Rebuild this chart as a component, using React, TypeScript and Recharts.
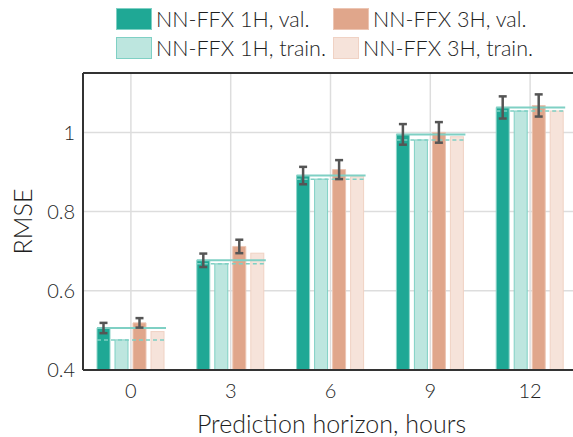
import { BarChart, Bar, XAxis, YAxis, CartesianGrid, ErrorBar, Legend, ReferenceLine } from 'recharts'

const horizons = ['0', '3', '6', '9', '12']
const val1H = [0.506, 0.677, 0.891, 0.995, 1.063]
const train1H = [0.476, 0.668, 0.882, 0.981, 1.054]
const val3H = [0.519, 0.712, 0.906, 1.0, 1.068]
const train3H = [0.497, 0.695, 0.888, 0.989, 1.054]
const err1H = [0.013, 0.017, 0.022, 0.026, 0.028]
const err3H = [0.012, 0.017, 0.024, 0.026, 0.028]
const yTicks = [0.4, 0.6, 0.8, 1]

const Y_MIN = 0.4
const Y_MAX = 1.15
const BAR_SIZE = 13
const BAR_GAP = 5
const FONT = 'Lato, "DejaVu Sans", sans-serif'
const WEIGHT = 300
const TEXT = '#1e1e1e'

const C1 = '#1fa895'
const C1L = '#bde6df'
const C3 = '#e0a68b'
const C3L = '#f6e3da'

const data = horizons.map((h, i) => ({
  h,
  val1H: val1H[i],
  train1H: train1H[i],
  val3H: val3H[i],
  train3H: train3H[i],
  err1H: err1H[i],
  err3H: err3H[i],
}))

const legendItems = [
  { label: 'NN-FFX 1H, val.', fill: C1, stroke: '#7fd0c4' },
  { label: 'NN-FFX 3H, val.', fill: C3, stroke: '#ecc5b3' },
  { label: 'NN-FFX 1H, train.', fill: C1L, stroke: '#7fd0c4' },
  { label: 'NN-FFX 3H, train.', fill: C3L, stroke: '#f0d2c4' },
]

function LegendBox() {
  return (
    <div style={{ display: 'grid', gridTemplateColumns: '217px 200px', rowGap: 7, paddingLeft: 116, paddingTop: 8, fontFamily: FONT, fontWeight: WEIGHT }}>
      {legendItems.map((it) => (
        <div key={it.label} style={{ display: 'flex', alignItems: 'center', height: 22 }}>
          <div style={{ width: 34, height: 20, background: it.fill, border: `1px solid ${it.stroke}`, marginRight: 4 }} />
          <span style={{ fontSize: 21.5, color: TEXT, whiteSpace: 'nowrap' }}>{it.label}</span>
        </div>
      ))}
    </div>
  )
}

// last bar also draws the 1H reference lines over the whole group
function Train3HShape(props: any) {
  const { x, y, width, height, payload, fill, stroke } = props
  const base = y + height
  const per = height / (payload.train3H - Y_MIN)
  const yOf = (v: number) => base - (v - Y_MIN) * per
  const left = x - 3 * (BAR_SIZE + BAR_GAP)
  const right = x + width + 2
  return (
    <g>
      <rect x={x} y={y} width={width} height={height} fill={fill} stroke={stroke} strokeWidth={1} />
      <line x1={left} x2={right} y1={yOf(payload.val1H)} y2={yOf(payload.val1H)} stroke="#7fd0c4" strokeWidth={2} />
      <line x1={left} x2={right} y1={yOf(payload.train1H)} y2={yOf(payload.train1H)} stroke="#7fd0c4" strokeWidth={1.5} strokeDasharray="4 3" />
    </g>
  )
}

function RmseLabel(props: any) {
  const { viewBox } = props
  const cy = viewBox.y + viewBox.height / 2
  return (
    <text x={22} y={cy} transform={`rotate(-90, 22, ${cy})`} textAnchor="middle" dominantBaseline="central" fontSize={25} fill={TEXT} fontFamily={FONT} fontWeight={WEIGHT}>
      RMSE
    </text>
  )
}

export default function App() {
  return (
    <div style={{ position: 'absolute', left: 0, top: 0, width: 573, height: 437, overflow: 'hidden', background: '#fff' }}>
      <BarChart
        width={600}
        height={437}
        data={data}
        margin={{ top: 73, right: 20, bottom: 0, left: 0 }}
        barSize={BAR_SIZE}
        barGap={BAR_GAP}
      >
        <CartesianGrid stroke="#dddddd" strokeWidth={1.5} horizontalValues={[0.6, 0.8, 1]} />
        <XAxis
          dataKey="h"
          height={67}
          padding={{ left: -2, right: 0 }}
          tickLine={false}
          tickSize={0}
          tickMargin={14}
          axisLine={{ stroke: '#333', strokeWidth: 2 }}
          tick={{ fontSize: 20, fill: TEXT, fontFamily: FONT, fontWeight: WEIGHT }}
          label={{ value: 'Prediction horizon, hours', position: 'insideBottom', offset: 4, fontSize: 25, fill: TEXT, fontFamily: FONT, fontWeight: WEIGHT }}
        />
        <YAxis
          width={83}
          domain={[Y_MIN, Y_MAX]}
          ticks={yTicks}
          allowDataOverflow
          tickLine={false}
          tickSize={0}
          tickMargin={8}
          axisLine={{ stroke: '#333', strokeWidth: 2 }}
          tick={{ fontSize: 20, fill: TEXT, fontFamily: FONT, fontWeight: WEIGHT }}
          tickFormatter={(v: number) => String(v)}
          label={<RmseLabel />}
        />
        <ReferenceLine y={Y_MAX} stroke="#333" strokeWidth={2} />
        <Legend verticalAlign="middle" align="center" wrapperStyle={{ top: 0, left: 0, width: 573 }} content={() => <LegendBox />} />
        <Bar dataKey="val1H" fill={C1} stroke="#8fd6ca" strokeWidth={1} isAnimationActive={false}>
          <ErrorBar dataKey="err1H" stroke="#555555" strokeWidth={2.5} width={4} />
        </Bar>
        <Bar dataKey="train1H" fill={C1L} stroke="#7fd0c4" strokeWidth={1} isAnimationActive={false} />
        <Bar dataKey="val3H" fill={C3} stroke="#ecc5b3" strokeWidth={1} isAnimationActive={false}>
          <ErrorBar dataKey="err3H" stroke="#555555" strokeWidth={2.5} width={4} />
        </Bar>
        <Bar dataKey="train3H" fill={C3L} stroke="#f0d2c4" strokeWidth={1} isAnimationActive={false} shape={<Train3HShape />} />
      </BarChart>
    </div>
  )
}
